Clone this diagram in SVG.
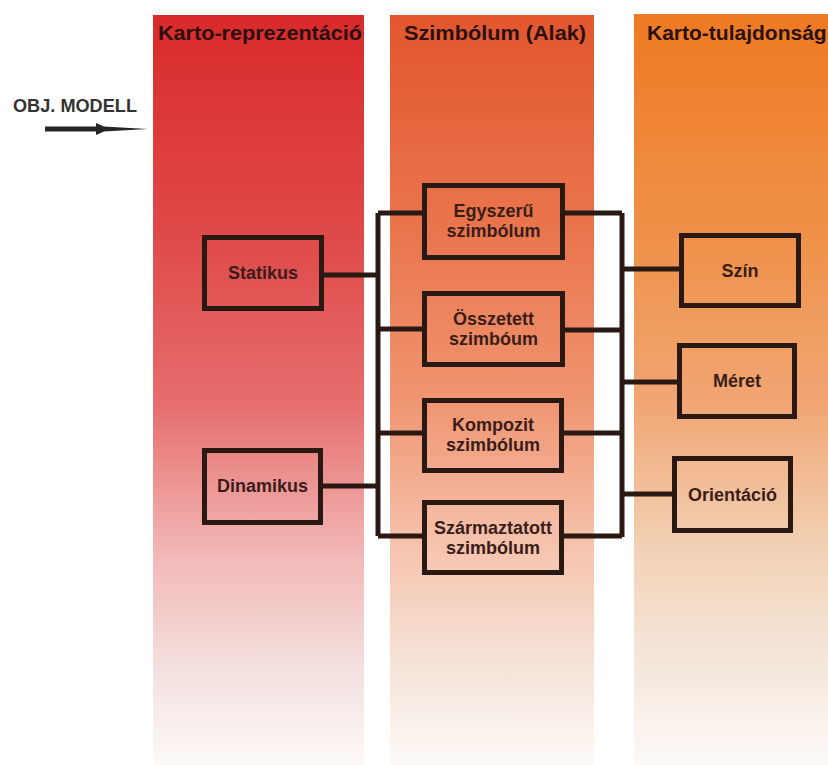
<svg xmlns="http://www.w3.org/2000/svg" width="828" height="765" viewBox="0 0 828 765">
<defs>
<linearGradient id="g1" x1="0" y1="0" x2="0" y2="1">
<stop offset="0" stop-color="#d92a2a"/>
<stop offset="0.3" stop-color="#e04a4a"/>
<stop offset="0.52" stop-color="#e66e6e"/>
<stop offset="0.72" stop-color="#f2b8b6"/>
<stop offset="0.88" stop-color="#f3e2e0"/>
<stop offset="1" stop-color="#fdf9f7"/>
</linearGradient>
<linearGradient id="g2" x1="0" y1="0" x2="0" y2="1">
<stop offset="0" stop-color="#e2562e"/>
<stop offset="0.3" stop-color="#ea774f"/>
<stop offset="0.52" stop-color="#f09672"/>
<stop offset="0.72" stop-color="#f6c6b1"/>
<stop offset="0.88" stop-color="#f5e6dc"/>
<stop offset="1" stop-color="#fdf9f6"/>
</linearGradient>
<linearGradient id="g3" x1="0" y1="0" x2="0" y2="1">
<stop offset="0" stop-color="#ee7a22"/>
<stop offset="0.3" stop-color="#ef9149"/>
<stop offset="0.52" stop-color="#f1a674"/>
<stop offset="0.72" stop-color="#f2d3b8"/>
<stop offset="0.88" stop-color="#f5e9df"/>
<stop offset="1" stop-color="#fdf9f6"/>
</linearGradient>
<style>
.box{fill:none;stroke:#2a1912;stroke-width:5}
.con{fill:none;stroke:#2a1912;stroke-width:5}
.t{font-family:"Liberation Sans",Arial,sans-serif;font-weight:bold;font-size:18px;fill:#3a1d18;text-anchor:middle}
.h{font-family:"Liberation Sans",Arial,sans-serif;font-weight:bold;font-size:21px;fill:#2a1010}
</style>
</defs>
<rect width="828" height="765" fill="#ffffff"/>
<g id="columns">
<rect x="153" y="15" width="211" height="750" fill="url(#g1)"/>
<rect x="390" y="15" width="204" height="750" fill="url(#g2)"/>
<rect x="634" y="14" width="194" height="751" fill="url(#g3)"/>
<text class="h" x="158" y="40" textLength="204" lengthAdjust="spacingAndGlyphs">Karto-reprezentáció</text>
<text class="h" x="404" y="40" textLength="182" lengthAdjust="spacingAndGlyphs">Szimbólum (Alak)</text>
<text class="h" x="647" y="40">Karto-tulajdonság</text>
</g>
<g id="input">
<text x="13" y="112" font-family="Liberation Sans,Arial,sans-serif" font-weight="bold" font-size="19" fill="#333333" textLength="124" lengthAdjust="spacingAndGlyphs">OBJ. MODELL</text>
<rect x="45" y="126.5" width="53" height="5" fill="#262626"/>
<path d="M96,123 L104,126.5 L148,129 L104,131.5 L96,135 Z" fill="#262626"/>
</g>
<g id="connectors">
<path class="con" d="M378,213 V536"/>
<path class="con" d="M324,275 H378"/>
<path class="con" d="M323,486 H378"/>
<path class="con" d="M378,213 H422 M378,329 H422 M378,433 H422 M378,536 H422"/>
<path class="con" d="M622,213 V537"/>
<path class="con" d="M565,213 H622 M565,330 H622 M564,433 H622 M564,536 H622"/>
<path class="con" d="M622,269 H679 M622,382 H677 M622,494 H672"/>
</g>
<g id="statikus">
<rect class="box" x="204.5" y="237.5" width="117" height="71"/>
<text class="t" x="263" y="279">Statikus</text>
</g>
<g id="dinamikus">
<rect class="box" x="204.5" y="450.5" width="116" height="72"/>
<text class="t" x="262.5" y="492">Dinamikus</text>
</g>
<g id="egyszeru">
<rect class="box" x="424.5" y="185.5" width="138" height="72"/>
<text class="t" x="493.5" y="217">Egyszerű</text>
<text class="t" x="493.5" y="237">szimbólum</text>
</g>
<g id="osszetett">
<rect class="box" x="424.5" y="293.5" width="138" height="71"/>
<text class="t" x="493.5" y="325">Összetett</text>
<text class="t" x="493.5" y="345">szimbóum</text>
</g>
<g id="kompozit">
<rect class="box" x="424.5" y="400.5" width="137" height="70"/>
<text class="t" x="493" y="431">Kompozit</text>
<text class="t" x="493" y="451">szimbólum</text>
</g>
<g id="szarmaztatott">
<rect class="box" x="424.5" y="502.5" width="137" height="70"/>
<text class="t" x="493" y="534">Származtatott</text>
<text class="t" x="493" y="554">szimbólum</text>
</g>
<g id="szin">
<rect class="box" x="681.5" y="235.5" width="117" height="70"/>
<text class="t" x="740" y="277">Szín</text>
</g>
<g id="meret">
<rect class="box" x="679.5" y="345.5" width="115" height="71"/>
<text class="t" x="737" y="387">Méret</text>
</g>
<g id="orientacio">
<rect class="box" x="674.5" y="458.5" width="116" height="72"/>
<text class="t" x="732.5" y="501">Orientáció</text>
</g>
</svg>
